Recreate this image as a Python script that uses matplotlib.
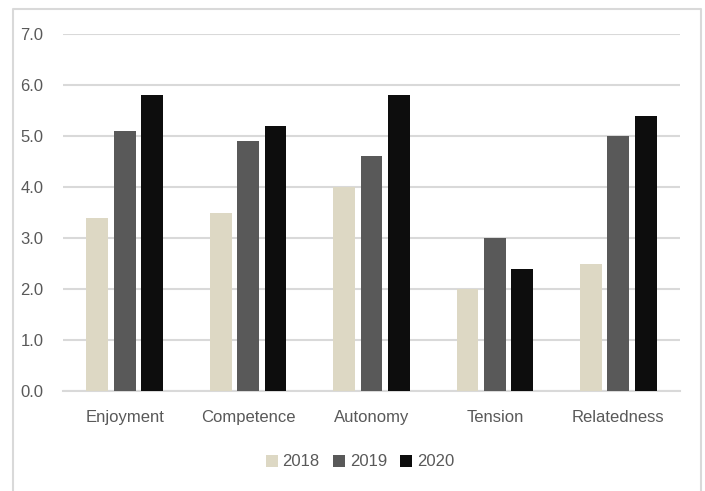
import matplotlib.pyplot as plt
import numpy as np
from matplotlib.lines import Line2D

categories = ['Enjoyment', 'Competence', 'Autonomy', 'Tension', 'Relatedness']
years = ['2018', '2019', '2020']
vals_2018 = [3.4, 3.5, 4.0, 2.0, 2.5]
vals_2019 = [5.1, 4.9, 4.6, 3.0, 5.0]
vals_2020 = [5.8, 5.2, 5.8, 2.4, 5.4]
colors = ['#DDD8C4', '#595959', '#0D0D0D']

plt.rcParams['font.family'] = ['Liberation Sans Narrow', 'Liberation Sans', 'DejaVu Sans']

fig = plt.figure(figsize=(7.05, 4.91), dpi=100)
ax = fig.add_axes([63 / 705, 1 - 391 / 491, (680 - 63) / 705, (391 - 34) / 491])

x = np.arange(len(categories))
w = 0.177
step = 0.222
for i, (vals, lab) in enumerate(zip([vals_2018, vals_2019, vals_2020], years)):
    ax.bar(x + (i - 1) * step, vals, w, color=colors[i], label=lab, zorder=3)

ax.set_xlim(-0.5, len(categories) - 0.5)
ax.set_ylim(0, 7)
ax.set_yticks(np.arange(0, 7.5, 1.0))
ax.set_yticklabels([f'{v:.1f}' for v in np.arange(0, 7.5, 1.0)])
ax.set_xticks(x)
ax.set_xticklabels(categories)
ax.yaxis.grid(True, color='#D9D9D9', linewidth=1.5, zorder=0)
for s in ['top', 'right', 'left']:
    ax.spines[s].set_visible(False)
ax.spines['bottom'].set_color('#D9D9D9')
ax.spines['bottom'].set_linewidth(1.5)
ax.tick_params(axis='both', length=0, colors='#595959', labelsize=12)
ax.tick_params(axis='x', pad=14)
ax.tick_params(axis='y', pad=14)

ax.legend(loc='center', bbox_to_anchor=(360 / 705, 1 - 462 / 491), bbox_transform=fig.transFigure,
          ncol=3, frameon=False, fontsize=12, labelcolor='#595959',
          handlelength=0.7, handleheight=0.7, handletextpad=0.3, columnspacing=0.8)

# outer chart frame
fx = [13 / 705, 13 / 705, 701 / 705, 701 / 705]
fy = [0, 1 - 9 / 491, 1 - 9 / 491, 0]
fig.add_artist(Line2D(fx, fy, color='#D9D9D9', linewidth=1.5, transform=fig.transFigure))

fig.savefig('out.png', dpi=100)
